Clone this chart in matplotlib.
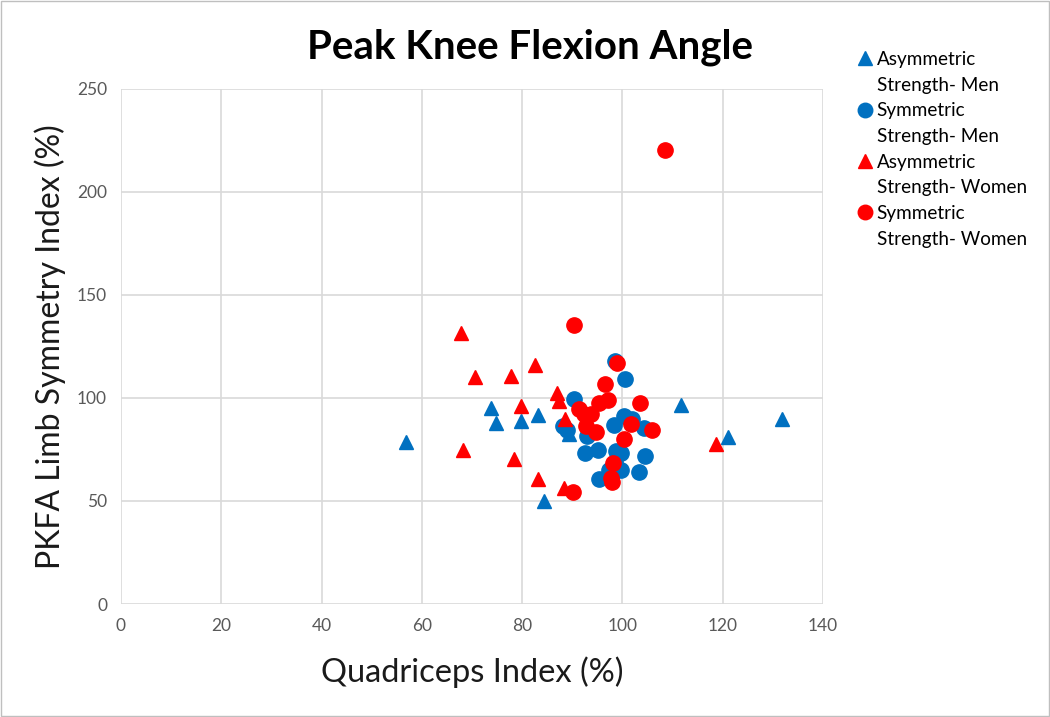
import matplotlib.pyplot as plt
from matplotlib import patches
from matplotlib.lines import Line2D

# Asymmetric strength - men (triangles, blue)
asym_men_x = [56.8, 73.8, 74.8, 79.8, 83.1, 89.3, 84.4, 111.7, 121.1, 131.8]
asym_men_y = [78.6, 95.3, 88.0, 88.8, 91.6, 82.4, 50.0, 96.4, 81.1, 89.8]

# Symmetric strength - men (circles, blue)
sym_men_x = [98.5, 100.5, 90.3, 88.1, 89.0, 93.0, 92.5, 95.2, 98.3, 100.3, 102.0,
             104.3, 98.7, 99.7, 104.5, 103.4, 99.7, 97.4, 95.4, 98.6]
sym_men_y = [118.0, 109.1, 99.4, 86.4, 84.5, 81.6, 73.5, 74.8, 86.7, 91.3, 90.0,
             85.6, 74.3, 73.5, 71.8, 64.2, 65.0, 65.0, 60.5, 69.0]

# Asymmetric strength - women (triangles, red)
asym_women_x = [67.9, 70.7, 77.8, 82.6, 86.9, 87.4, 79.8, 88.5, 68.3, 78.3, 83.2, 88.3, 118.7]
asym_women_y = [131.7, 110.4, 110.7, 116.0, 102.6, 98.5, 96.1, 90.0, 74.8, 70.2, 60.5, 56.5, 77.7]

# Symmetric strength - women (circles, red)
sym_women_x = [108.5, 90.4, 98.9, 96.6, 95.4, 97.2, 103.5, 91.4, 92.4, 93.7, 92.7,
               94.7, 101.7, 106.0, 100.3, 98.1, 97.7, 97.9, 90.1]
sym_women_y = [220.4, 135.3, 117.2, 107.0, 97.4, 98.9, 97.7, 94.8, 92.1, 92.1, 86.4,
               83.5, 87.2, 84.3, 80.3, 68.3, 61.3, 59.2, 54.4]

series_names = [('Asymmetric', 'Strength- Men'), ('Symmetric', 'Strength- Men'),
                ('Asymmetric', 'Strength- Women'), ('Symmetric', 'Strength- Women')]

blue = '#0070C0'
red = '#FF0000'
font = ['Lato', 'DejaVu Sans']

fig = plt.figure(figsize=(10.5, 7.17), dpi=100)
ax = fig.add_axes([0.1152, 0.1576, 0.6686, 0.7183])

h1, = ax.plot(asym_men_x, asym_men_y, '^', color=blue, ms=10, mec=blue, zorder=3)
h2, = ax.plot(sym_men_x, sym_men_y, 'o', color=blue, ms=11, mec=blue, zorder=3)
h3, = ax.plot(asym_women_x, asym_women_y, '^', color=red, ms=10, mec=red, zorder=4)
h4, = ax.plot(sym_women_x, sym_women_y, 'o', color=red, ms=11, mec=red, zorder=4)

ax.set_xlim(0, 140)
ax.set_ylim(0, 250)
ax.set_xticks(range(0, 141, 20))
ax.set_yticks(range(0, 251, 50))
ax.grid(True, color='#D9D9D9', lw=1.2)
ax.set_axisbelow(True)
for s in ax.spines.values():
    s.set_visible(False)
ax.tick_params(length=0, labelsize=12.5, labelcolor='#595959', pad=10)
for lab in ax.get_xticklabels() + ax.get_yticklabels():
    lab.set_family(font)

ax.set_xlabel('Quadriceps Index (%)', fontsize=23.5, family=font, color='#1a1a1a', labelpad=16)
ax.set_ylabel('PKFA Limb Symmetry Index (%)', fontsize=23, family=font, color='#1a1a1a', labelpad=8)
fig.text(0.505, 0.934, 'Peak Knee Flexion Angle', ha='center', va='center',
         fontsize=29, fontweight='bold', family=font)

# legend: marker beside first line of each two-line label
blank = Line2D([], [], linestyle='none')
handles, labels = [], []
for h, (a, b) in zip([h1, h2, h3, h4], series_names):
    handles += [h, blank]
    labels += [a, b]
fig.legend(handles, labels, loc='upper left', bbox_to_anchor=(0.815, 0.929), frameon=False,
           prop={'family': font, 'size': 13.6}, handletextpad=0.1, labelspacing=0.46,
           handlelength=1.0, borderpad=0, borderaxespad=0, markerscale=0.95)

fig.patches.append(patches.Rectangle((0.001, 0.001), 0.998, 0.998, transform=fig.transFigure,
                                     fill=False, edgecolor='#BFBFBF', lw=1))

fig.savefig('out.png', dpi=100)
